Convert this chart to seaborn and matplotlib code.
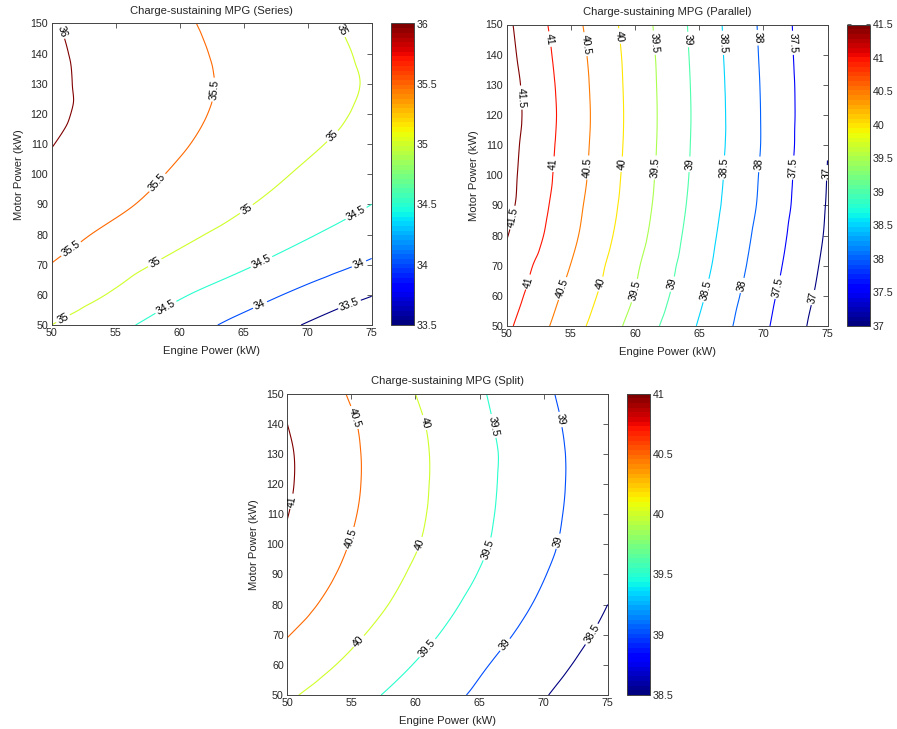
import numpy as np
import matplotlib
matplotlib.use("Agg")
import matplotlib.pyplot as plt
import matplotlib.tri as mtri
from matplotlib.colors import Normalize
from matplotlib.cm import ScalarMappable
import seaborn as sns

# ---------------- data ----------------
engine_kw = [50, 55, 60, 65, 70, 75]
motor_kw = [50, 60, 70, 80, 90, 100, 110, 120, 130, 140, 150]

# rows: motor power, columns: engine power
mpg_series = [
    [35.00, 34.62, 34.23, 33.85, 33.46, 33.08],
    [35.30, 34.94, 34.55, 34.21, 33.86, 33.52],
    [35.49, 35.18, 34.86, 34.56, 34.24, 33.93],
    [35.67, 35.39, 35.11, 34.83, 34.54, 34.23],
    [35.80, 35.58, 35.31, 35.04, 34.77, 34.50],
    [35.92, 35.70, 35.44, 35.19, 34.93, 34.68],
    [36.01, 35.78, 35.54, 35.30, 35.06, 34.83],
    [36.07, 35.83, 35.60, 35.37, 35.15, 34.92],
    [36.07, 35.85, 35.62, 35.40, 35.18, 34.96],
    [36.06, 35.83, 35.60, 35.38, 35.16, 34.93],
    [36.03, 35.78, 35.56, 35.33, 35.11, 34.88],
]
mpg_parallel = [
    [41.09, 40.21, 39.33, 38.46, 37.59, 36.72],
    [41.23, 40.35, 39.48, 38.58, 37.67, 36.81],
    [41.34, 40.49, 39.57, 38.68, 37.76, 36.88],
    [41.52, 40.61, 39.68, 38.75, 37.83, 36.94],
    [41.62, 40.68, 39.75, 38.81, 37.90, 36.97],
    [41.65, 40.74, 39.79, 38.85, 37.93, 36.99],
    [41.68, 40.77, 39.82, 38.87, 37.96, 37.01],
    [41.72, 40.79, 39.83, 38.88, 37.96, 37.03],
    [41.70, 40.77, 39.82, 38.87, 37.95, 37.03],
    [41.64, 40.73, 39.80, 38.85, 37.93, 37.01],
    [41.59, 40.67, 39.76, 38.83, 37.91, 37.00],
]
mpg_split = [
    [40.07, 39.68, 39.30, 38.92, 38.53, 38.15],
    [40.31, 39.90, 39.48, 39.06, 38.67, 38.28],
    [40.52, 40.09, 39.66, 39.22, 38.80, 38.40],
    [40.71, 40.26, 39.81, 39.36, 38.92, 38.50],
    [40.84, 40.39, 39.93, 39.48, 39.02, 38.58],
    [40.94, 40.48, 40.03, 39.57, 39.10, 38.62],
    [41.01, 40.54, 40.08, 39.61, 39.14, 38.67],
    [41.05, 40.57, 40.10, 39.63, 39.16, 38.69],
    [41.05, 40.57, 40.10, 39.64, 39.16, 38.69],
    [41.00, 40.54, 40.07, 39.60, 39.13, 38.66],
    [40.93, 40.46, 40.00, 39.55, 39.08, 38.62],
]

levels_series = [33.5, 34.0, 34.5, 35.0, 35.5, 36.0]
levels_parallel = [37.0, 37.5, 38.0, 38.5, 39.0, 39.5, 40.0, 40.5, 41.0, 41.5]
levels_split = [38.5, 39.0, 39.5, 40.0, 40.5, 41.0]

titles = ["Charge-sustaining MPG (Series)",
          "Charge-sustaining MPG (Parallel)",
          "Charge-sustaining MPG (Split)"]
x_label = "Engine Power (kW)"
y_label = "Motor Power (kW)"
x_ticks = [50, 55, 60, 65, 70, 75]
y_ticks = [50, 60, 70, 80, 90, 100, 110, 120, 130, 140, 150]

# contour label anchor points (presentation only)
labels_series = [(50.3, 146.7), (62.8, 128), (58.2, 97.4), (51.6, 74.7),
                 (72.65, 147.8), (72.0, 112.4), (65.2, 88.5), (58.1, 70.3), (50.9, 52),
                 (73.8, 86.9), (66.4, 70.8), (59.0, 55.3),
                 (74.0, 70.3), (66.3, 56.4), (73.3, 56.4)]
labels_parallel = [(50.9, 125.7), (50.5, 85.9),
                   (53.1, 145), (53.9, 103.6), (51.8, 64.4),
                   (56.0, 143.4), (56.5, 102.5), (54.5, 62.2),
                   (58.6, 146.1), (59.1, 103.6), (57.4, 63.8),
                   (61.3, 143.9), (61.8, 102.5), (60.1, 61.6),
                   (64.0, 145), (64.4, 103.6), (63.0, 63.8),
                   (66.7, 143.9), (67.1, 102.5), (65.7, 61.6),
                   (69.5, 145.6), (69.7, 103.6), (68.5, 63.3),
                   (72.1, 143.9), (72.5, 102.5), (71.3, 62.7),
                   (74.95, 100.8), (73.9, 59.4)]
labels_split = [(50.5, 114.1),
                (55.0, 141.7), (55.3, 101.4),
                (60.35, 140), (60.5, 99.7), (55.9, 66.6),
                (65.8, 139), (65.9, 98), (61.4, 63.8),
                (71.1, 141.2), (71.3, 100.8), (67.5, 64.9),
                (74.1, 69.3)]

# ---------------- style ----------------
sns.set_style("white")
plt.rcParams["font.family"] = ["Liberation Sans", "DejaVu Sans"]
plt.rcParams["font.size"] = 7.5
TXT = "#262626"
JET = plt.get_cmap("jet", 64)

W, H = 897, 729
fig = plt.figure(figsize=(W / 100, H / 100), dpi=100)
fig.patch.set_facecolor("white")


def rect(l, t, r, b):
    return [l / W, 1 - b / H, (r - l) / W, (b - t) / H]


panels = [
    (mpg_series, levels_series, labels_series, titles[0],
     rect(51.7, 23.5, 371.7, 325), rect(391, 23.5, 414, 325)),
    (mpg_parallel, levels_parallel, labels_parallel, titles[1],
     rect(506.7, 24.5, 827.5, 326), rect(846.7, 24.5, 870, 326)),
    (mpg_split, levels_split, labels_split, titles[2],
     rect(287.3, 393.5, 607.7, 695), rect(626.7, 393.5, 650, 695)),
]


def smooth_field(ex, my, z, n=161):
    E, M = np.meshgrid(np.asarray(ex, float), np.asarray(my, float))
    tri = mtri.Triangulation(E.ravel(), M.ravel())
    interp = mtri.CubicTriInterpolator(tri, np.asarray(z, float).ravel(), kind="geom")
    eps = 1e-7
    ef = np.linspace(min(ex) + eps, max(ex) - eps, n)
    mf = np.linspace(min(my) + eps, max(my) - eps, n)
    EF, MF = np.meshgrid(ef, mf)
    ZF = interp(EF, MF)
    return EF, MF, ZF


for z, levels, lab_pos, title, ax_rect, cb_rect in panels:
    ax = fig.add_axes(ax_rect)
    cax = fig.add_axes(cb_rect)
    norm = Normalize(vmin=levels[0], vmax=levels[-1])
    EF, MF, ZF = smooth_field(engine_kw, motor_kw, z)
    cs = ax.contour(EF, MF, ZF, levels=levels, cmap="jet", norm=norm, linewidths=0.8)
    texts = ax.clabel(cs, levels, inline=True, fmt="%g", fontsize=7.5,
                      colors="black", manual=lab_pos, inline_spacing=2)
    for t in texts:
        t.set_clip_on(True)
        t.set_clip_path(ax.patch)

    ax.set_xlim(50, 75)
    ax.set_ylim(50, 150)
    ax.set_xticks(x_ticks)
    ax.set_yticks(y_ticks)
    ax.tick_params(direction="in", length=3.5, width=0.6, top=True, right=True,
                   labelsize=7.7, colors="#444444", pad=2.5, labelcolor=TXT)
    for s in ax.spines.values():
        s.set_linewidth(0.7)
        s.set_color("#444444")
    ax.set_title(title, fontsize=8.1, color=TXT, pad=6.5)
    ax.set_xlabel(x_label, fontsize=8.1, color=TXT, labelpad=5.5)
    ax.set_ylabel(y_label, fontsize=8.1, color=TXT, labelpad=5)

    sm = ScalarMappable(norm=norm, cmap=JET)
    cb = fig.colorbar(sm, cax=cax, ticks=levels, format="%g")
    cb.outline.set_linewidth(0.7)
    cb.outline.set_edgecolor("#444444")
    cax.tick_params(direction="in", length=3, width=0.6, left=True, right=True,
                    labelsize=7.7, colors="#444444", labelcolor=TXT, pad=2)

fig.savefig("out.png", dpi=100, facecolor="white")
